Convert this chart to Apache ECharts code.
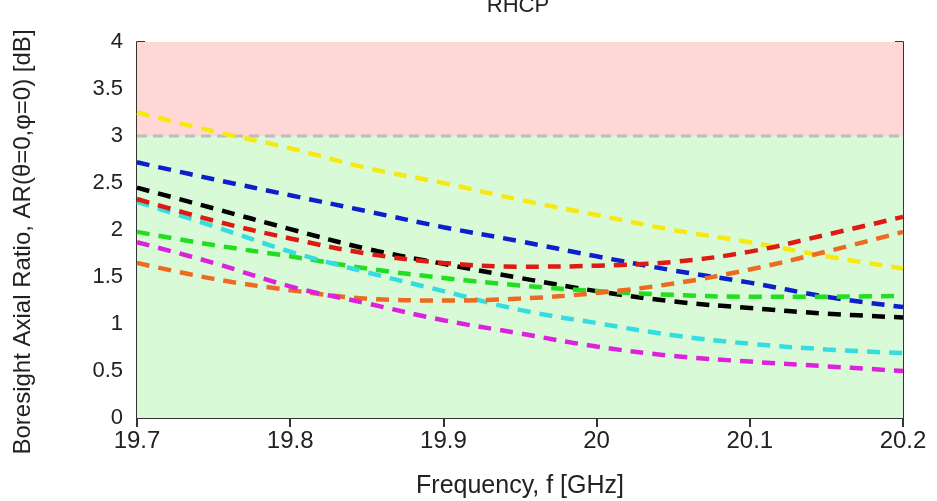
<!DOCTYPE html>
<html>
<head>
<meta charset="utf-8">
<script src="https://cdn.jsdelivr.net/npm/echarts@6/dist/echarts.min.js"></script>
<style>
html,body{margin:0;padding:0;background:#fff;}
#chart{width:937px;height:501px;}
</style>
</head>
<body>
<div id="chart"></div>
<script>
const freq = [19.7, 19.75, 19.8, 19.85, 19.9, 19.95, 20.0, 20.05, 20.1, 20.15, 20.2];
const yellow  = [3.25, 3.05, 2.87, 2.66, 2.50, 2.32, 2.16, 2.00, 1.87, 1.72, 1.59];
const blue    = [2.72, 2.54, 2.37, 2.20, 2.03, 1.88, 1.72, 1.57, 1.44, 1.29, 1.18];
const black   = [2.45, 2.23, 2.01, 1.80, 1.64, 1.49, 1.35, 1.24, 1.17, 1.11, 1.07];
const red     = [2.33, 2.10, 1.91, 1.75, 1.65, 1.61, 1.62, 1.66, 1.77, 1.95, 2.14];
const green   = [1.98, 1.84, 1.72, 1.59, 1.49, 1.41, 1.35, 1.31, 1.29, 1.29, 1.30];
const cyan    = [2.30, 2.04, 1.77, 1.55, 1.35, 1.15, 1.01, 0.88, 0.79, 0.73, 0.69];
const orange  = [1.65, 1.48, 1.36, 1.27, 1.25, 1.27, 1.33, 1.43, 1.58, 1.77, 1.98];
const magenta = [1.87, 1.65, 1.40, 1.22, 1.04, 0.90, 0.76, 0.66, 0.60, 0.55, 0.50];
const threshold = 3;
const yMax = 4;

const chart = echarts.init(document.getElementById('chart'));
const FONT = 'Liberation Sans, Arial, sans-serif';
const pair = arr => freq.map((f, i) => [f, arr[i]]);
const curves = [
  ['yellow', yellow, '#f7e811'],
  ['blue', blue, '#0d1fcc'],
  ['black', black, '#000000'],
  ['red', red, '#dd1a14'],
  ['green', green, '#22dd22'],
  ['cyan', cyan, '#33dde0'],
  ['orange', orange, '#ec6a22'],
  ['magenta', magenta, '#dd22dd']
];
const series = [{
  type: 'line', name: 'limit', silent: true, symbol: 'none',
  data: [[freq[0], threshold], [freq[freq.length - 1], threshold]],
  lineStyle: { color: '#bdbdbd', width: 3, type: [10, 6] },
  markArea: {
    silent: true,
    data: [
      [{ yAxis: threshold, itemStyle: { color: '#ffd7d7' } }, { yAxis: yMax }],
      [{ yAxis: 0, itemStyle: { color: '#d9fad6' } }, { yAxis: threshold }]
    ]
  },
  z: 1
}];
const order = ['yellow','blue','black','green','cyan','orange','red','magenta'];
curves.forEach(([name, arr, color]) => {
  series.push({
    type: 'line', name, data: pair(arr), smooth: 0.4, symbol: 'none',
    lineStyle: { color, width: 4.5, type: [13, 9] },
    z: 3 + order.indexOf(name)
  });
});

const fmtX = v => String(Math.round(v * 10) / 10);
chart.setOption({
  animation: false,
  title: {
    text: 'RHCP', left: 513, top: -10, textAlign: 'center',
    textStyle: { fontFamily: FONT, fontSize: 22, fontWeight: 'normal', color: '#222' }
  },
  grid: { left: 137, right: 34, top: 42, bottom: 83, containLabel: false, outerBoundsMode: 'none' },
  xAxis: [{
    type: 'value', min: 19.7, max: 20.2, interval: 0.1,
    name: 'Frequency, f [GHz]', nameLocation: 'middle', nameGap: 56,
    nameTextStyle: { fontFamily: FONT, fontSize: 25, color: '#222' },
    axisLine: { show: true, lineStyle: { color: '#333', width: 2 } },
    axisTick: { inside: true, length: 9, lineStyle: { color: '#333', width: 2 } },
    axisLabel: { fontFamily: FONT, fontSize: 24, color: '#222', margin: 11, formatter: fmtX },
    splitLine: { show: false }
  }, {
    type: 'value', position: 'top', min: 19.7, max: 20.2, interval: 0.1,
    axisLine: { show: true, lineStyle: { color: '#333', width: 2 } },
    axisTick: { inside: true, length: 9, lineStyle: { color: '#333', width: 2 } },
    axisLabel: { show: false }, splitLine: { show: false }
  }],
  yAxis: [{
    type: 'value', min: 0, max: yMax, interval: 0.5,
    name: 'Boresight Axial Ratio, AR(θ=0,φ=0) [dB]', nameLocation: 'middle', nameGap: 102,
    nameTextStyle: { fontFamily: FONT, fontSize: 24, color: '#222', padding: [0, 24, 0, 0] },
    axisLine: { show: true, lineStyle: { color: '#333', width: 2 } },
    axisTick: { inside: true, length: 8, lineStyle: { color: '#333', width: 2 } },
    axisLabel: { fontFamily: FONT, fontSize: 22, color: '#222', margin: 14 },
    splitLine: { show: false }
  }, {
    type: 'value', position: 'right', min: 0, max: yMax, interval: 0.5,
    axisLine: { show: true, lineStyle: { color: '#333', width: 2 } },
    axisTick: { inside: true, length: 8, lineStyle: { color: '#333', width: 2 } },
    axisLabel: { show: false }, splitLine: { show: false }
  }],
  series
});
</script>
</body>
</html>
